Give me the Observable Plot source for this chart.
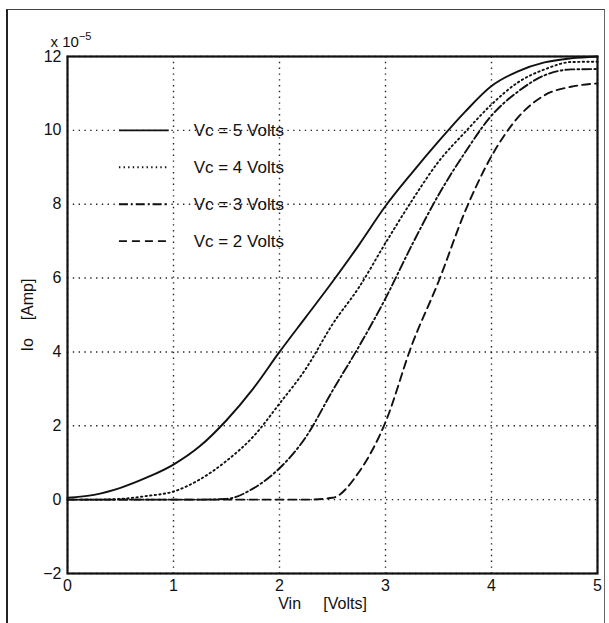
<!DOCTYPE html>
<html><head><meta charset="utf-8">
<script src="https://cdn.jsdelivr.net/npm/d3@7"></script>
<script src="https://cdn.jsdelivr.net/npm/@observablehq/plot@0.6"></script>
<style>
body{margin:0;background:#fff;}
#wrap{position:relative;width:609px;height:623px;}
#border{position:absolute;left:6px;top:9px;width:599px;height:614px;border-left:2px solid #222;border-top:1.5px solid #444;border-right:1.5px solid #666;box-sizing:border-box;pointer-events:none;}
</style></head><body><div id="wrap"><div id="border"></div></div>
<script>
// Data (Io in units of 1e-5 A)
const vin = [0,0.25,0.5,0.75,1,1.25,1.5,1.75,2,2.25,2.5,2.75,3,3.25,3.5,3.75,4,4.25,4.5,4.75,5];
const vc5 = [0.05,0.13,0.32,0.6,0.95,1.45,2.15,3.0,4.0,4.95,5.9,6.9,7.95,8.85,9.7,10.5,11.2,11.6,11.84,11.95,12.0];
const vc4 = [0,0,0.02,0.1,0.22,0.55,1.05,1.7,2.6,3.55,4.75,5.75,6.95,8.1,9.15,9.95,10.7,11.3,11.65,11.85,11.86];
const vc3 = [0,0,0,0,0,0,0.02,0.3,0.85,1.7,2.95,4.15,5.45,6.9,8.25,9.4,10.4,11.05,11.49,11.65,11.66];
const vc2 = [0,0,0,0,0,0,0,0,0,0,0.05,0.75,2.1,4.2,5.9,7.8,9.3,10.35,10.95,11.18,11.27];
const seriesLabels = ["Vc = 5 Volts","Vc = 4 Volts","Vc = 3 Volts","Vc = 2 Volts"];
const xTicks = [0,1,2,3,4,5];
const yTicks = [-2,0,2,4,6,8,10,12];
const xLabel = "Vin\u00a0\u00a0\u00a0\u00a0\u00a0[Volts]";
const yLabel = "Io\u00a0\u00a0\u00a0\u00a0[Amp]";

// styling (kept separate from data)
const dashes = ["none","1.4,3.2","9,3,1.8,3","8,5"];
const series = [vc5,vc4,vc3,vc2];
const rows = [];
series.forEach((arr,i)=>arr.forEach((v,j)=>rows.push({s:i, x:vin[j], y:v})));
const legendRows = seriesLabels.map((label,i)=>({label, i, y: 10 - i}));
const ink = "#111";
const font = "'Liberation Sans', Arial, Helvetica, sans-serif";

const chart = Plot.plot({
  width:609, height:623,
  marginLeft:67, marginRight:12, marginTop:56, marginBottom:50,
  x:{domain:[0,5]},
  y:{domain:[-2,12]},
  style:{fontFamily:font, fontSize:"16px", color:ink, background:"white", overflow:"visible"},
  marks:[
    Plot.gridX(xTicks, {stroke:ink, strokeOpacity:0.9, strokeDasharray:"1.4,4.4", strokeWidth:1.4}),
    Plot.gridY(yTicks, {stroke:ink, strokeOpacity:0.9, strokeDasharray:"1.4,4.4", strokeWidth:1.4}),
    ...series.map((_,i)=>Plot.line(rows.filter(d=>d.s===i), {x:"x", y:"y", stroke:ink, strokeWidth:1.9, strokeDasharray:dashes[i], curve:"monotone-x"})),
    ...legendRows.map(d=>Plot.ruleY([d], {y:"y", x1:0.49, x2:0.96, stroke:ink, strokeWidth:1.9, strokeDasharray:dashes[d.i]})),
    Plot.text(legendRows, {x:1.19, y:"y", text:"label", textAnchor:"start", fill:ink, fontSize:17}),
    Plot.frame({stroke:ink, strokeWidth:2.2}),
    Plot.axisX(xTicks, {tickSize:0, tickPadding:6, fontSize:16, label:null}),
    Plot.axisY(yTicks, {tickSize:0, tickPadding:6, fontSize:16, label:null}),
    Plot.text([xLabel], {frameAnchor:"bottom", dy:35, dx:-10, fontSize:16, fill:ink}),
    Plot.text([yLabel], {frameAnchor:"left", dx:-40, rotate:-90, textAnchor:"middle", lineAnchor:"middle", fontSize:16, fill:ink})
  ]
});
document.getElementById("wrap").prepend(chart);

// exponent label "x 10^-5" above the top-left corner
const sx = chart.scale("x"), sy = chart.scale("y");
const svg = d3.select(chart.tagName === "svg" ? chart : chart.querySelector("svg"));
const t = svg.append("text")
  .attr("x", sx.apply(0) + 4).attr("y", sy.apply(12) - 9)
  .attr("font-size", 15).attr("fill", ink)
  .attr("font-family", font);
t.append("tspan").text("x 10");
t.append("tspan").attr("dy", -7).attr("font-size", 11).text("\u22125");
</script>
</body></html>
